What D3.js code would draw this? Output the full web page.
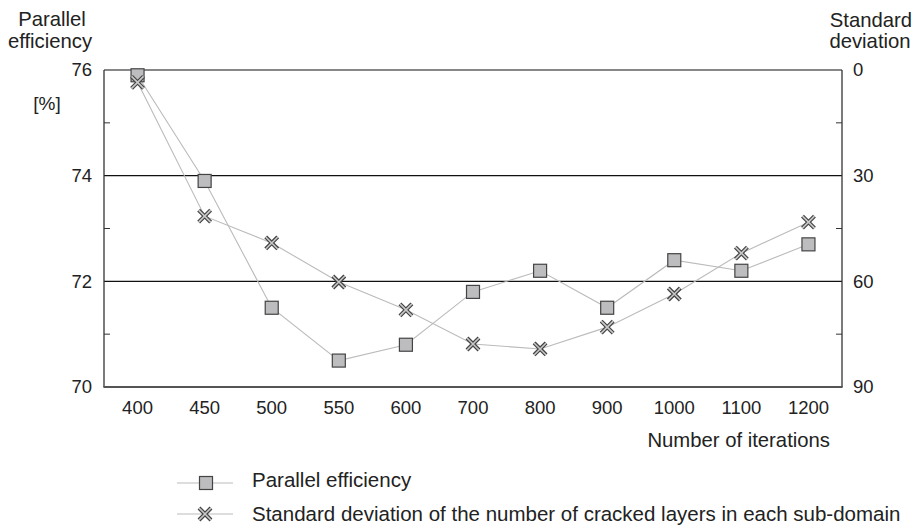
<!DOCTYPE html>
<html>
<head>
<meta charset="utf-8">
<script src="https://cdn.jsdelivr.net/npm/d3@7"></script>
<style>
  body { margin: 0; background: #fff; }
  text { font-family: "Liberation Sans", Arial, sans-serif; fill: #222; }
</style>
</head>
<body>
<script>
'use strict';

var iterations = ["400", "450", "500", "550", "600", "700", "800", "900", "1000", "1100", "1200"];
var efficiency = [75.9, 73.9, 71.5, 70.5, 70.8, 71.8, 72.2, 71.5, 72.4, 72.2, 72.7];
var stdDev = [3.5, 41.5, 49.1, 60.2, 68.1, 77.8, 79.2, 73.0, 63.6, 52.0, 43.2];
var leftTicks = [70, 72, 74, 76];
var leftMinor = [71, 73, 75];
var rightTicks = [0, 30, 60, 90];
var rightMinor = [15, 45, 75];
var legendLabels = ["Parallel efficiency",
  "Standard deviation of the number of cracked layers in each sub-domain"];

var W = 915, H = 530;
var m = { left: 104, right: 842, top: 70, bottom: 387 };

var svg = d3.select("body").append("svg")
  .attr("width", W).attr("height", H);

var x = d3.scaleBand().domain(iterations).range([m.left, m.right]);
var yL = d3.scaleLinear().domain([70, 76]).range([m.bottom, m.top]);
var yR = d3.scaleLinear().domain([0, 90]).range([m.top, m.bottom]);
var cx = function(d, i){ return x(iterations[i]) + x.bandwidth() / 2; };

// grid lines at the major ticks
svg.append("g").selectAll("line")
  .data(leftTicks.filter(function(t){ return t > 70; }))
  .enter().append("line")
  .attr("x1", m.left).attr("x2", m.right)
  .attr("y1", function(d){ return yL(d); }).attr("y2", function(d){ return yL(d); })
  .attr("stroke", "#111").attr("stroke-width", 1.2);

// frame
svg.append("line").attr("x1", m.left).attr("x2", m.left)
  .attr("y1", m.top).attr("y2", m.bottom).attr("stroke", "#333").attr("stroke-width", 1.3);
svg.append("line").attr("x1", m.right).attr("x2", m.right)
  .attr("y1", m.top).attr("y2", m.bottom).attr("stroke", "#333").attr("stroke-width", 1.3);
svg.append("line").attr("x1", m.left - 0.6).attr("x2", m.right + 0.6)
  .attr("y1", m.bottom).attr("y2", m.bottom).attr("stroke", "#555").attr("stroke-width", 2.2);

// left axis
var axL = d3.axisLeft(yL).tickValues(leftTicks).tickFormat(d3.format("d"))
  .tickSize(0).tickPadding(12);
var gL = svg.append("g").attr("transform", "translate(" + m.left + ",0)").call(axL);
gL.select(".domain").remove();
gL.selectAll("text").attr("font-size", "18.5px").attr("font-family", null);
svg.append("g").selectAll("line").data(leftMinor).enter().append("line")
  .attr("x1", m.left).attr("x2", m.left + 6)
  .attr("y1", function(d){ return yL(d); }).attr("y2", function(d){ return yL(d); })
  .attr("stroke", "#333");

// right axis
var axR = d3.axisRight(yR).tickValues(rightTicks).tickSize(0).tickPadding(11);
var gR = svg.append("g").attr("transform", "translate(" + m.right + ",0)").call(axR);
gR.select(".domain").remove();
gR.selectAll("text").attr("font-size", "18.5px").attr("font-family", null);
svg.append("g").selectAll("line").data(rightMinor).enter().append("line")
  .attr("x1", m.right - 6).attr("x2", m.right)
  .attr("y1", function(d){ return yR(d); }).attr("y2", function(d){ return yR(d); })
  .attr("stroke", "#333");

// x axis
var axB = d3.axisBottom(x).tickSize(0).tickPadding(14);
var gB = svg.append("g").attr("transform", "translate(0," + m.bottom + ")").call(axB);
gB.select(".domain").remove();
gB.selectAll("text").attr("font-size", "18.5px").attr("font-family", null);

// titles
var fs = "20.3px";
svg.append("text").attr("x", 52).attr("y", 26).attr("text-anchor", "middle")
  .attr("font-size", fs).text("Parallel");
svg.append("text").attr("x", 50).attr("y", 48).attr("text-anchor", "middle")
  .attr("font-size", fs).text("efficiency");
svg.append("text").attr("x", 47).attr("y", 110).attr("text-anchor", "middle")
  .attr("font-size", "19px").text("[%]");
svg.append("text").attr("x", 871).attr("y", 27).attr("text-anchor", "middle")
  .attr("font-size", fs).text("Standard");
svg.append("text").attr("x", 870).attr("y", 48).attr("text-anchor", "middle")
  .attr("font-size", fs).text("deviation");
svg.append("text").attr("x", 830).attr("y", 447).attr("text-anchor", "end")
  .attr("font-size", fs).text("Number of iterations");

// series lines
var lineL = d3.line().x(cx).y(function(d){ return yL(d); });
var lineR = d3.line().x(cx).y(function(d){ return yR(d); });
svg.append("path").datum(efficiency).attr("d", lineL)
  .attr("fill", "none").attr("stroke", "#bbb").attr("stroke-width", 1.1);
svg.append("path").datum(stdDev).attr("d", lineR)
  .attr("fill", "none").attr("stroke", "#bbb").attr("stroke-width", 1.1);

function drawSquare(g, px, py) {
  g.append("rect").attr("x", px - 6.5).attr("y", py - 6.5)
    .attr("width", 13).attr("height", 13)
    .attr("fill", "#bdbdc0").attr("stroke", "#444").attr("stroke-width", 1.2);
}
function drawCross(g, px, py) {
  var s = 6;
  var d = "M" + (px - s) + "," + (py - s) + "L" + (px + s) + "," + (py + s) +
          "M" + (px - s) + "," + (py + s) + "L" + (px + s) + "," + (py - s);
  g.append("path").attr("d", d).attr("stroke", "#444").attr("stroke-width", 4).attr("fill", "none");
  g.append("path").attr("d", d).attr("stroke", "#c8c8c8").attr("stroke-width", 1.6).attr("fill", "none");
}

var gM = svg.append("g");
efficiency.forEach(function(v, i){ drawSquare(gM, cx(v, i), yL(v)); });
stdDev.forEach(function(v, i){ drawCross(gM, cx(v, i), yR(v)); });

// legend
var legY = [483, 514];
var legText = [487, 521];
var gLeg = svg.append("g");
legY.forEach(function(ly, i){
  gLeg.append("line").attr("x1", 177).attr("x2", 233).attr("y1", ly).attr("y2", ly)
    .attr("stroke", "#bbb").attr("stroke-width", 1.1);
  if (i === 0) drawSquare(gLeg, 206, ly); else drawCross(gLeg, 205, ly);
  gLeg.append("text").attr("x", 252).attr("y", legText[i])
    .attr("font-size", "20.5px").text(legendLabels[i]);
});
</script>
</body>
</html>
